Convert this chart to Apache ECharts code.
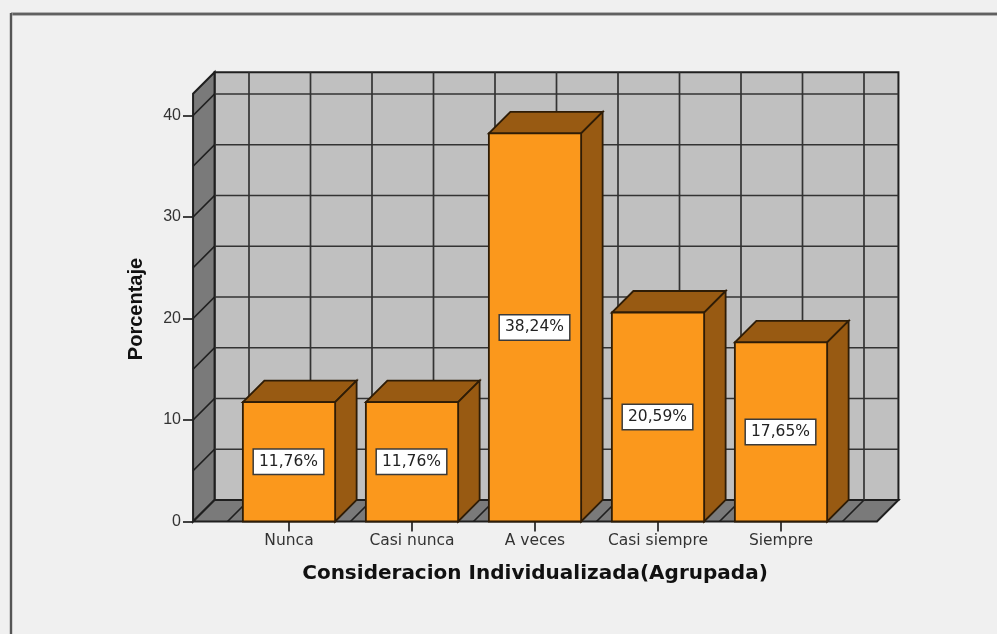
<!DOCTYPE html>
<html>
<head>
<meta charset="utf-8">
<style>html,body{margin:0;padding:0;background:#f0f0f0}#c{width:997px;height:634px}</style>
<script src="https://cdn.jsdelivr.net/npm/echarts@6/dist/echarts.min.js"></script>
</head>
<body>
<div id="c"></div>
<script>
const categories = ['Nunca', 'Casi nunca', 'A veces', 'Casi siempre', 'Siempre'];
const values = [11.76, 11.76, 38.24, 20.59, 17.65];
const valueLabels = ['11,76%', '11,76%', '38,24%', '20,59%', '17,65%'];
const wallLines = [0, 5, 10, 15, 20, 25, 30, 35, 40];
const wallTopValue = 42.15;
const wallPadBands = 0.78;

const DEPTH = 21.5;
const BAR_RATIO = 0.75;
const LINE = '#1f1f1f';
const BAR_LINE = '#2e1c06';
const GRIDLINE = '#333333';
const chart = echarts.init(document.getElementById('c'));

function line(x1, y1, x2, y2, w, c) {
  return { type: 'line', shape: { x1, y1, x2, y2 }, style: { stroke: c || LINE, lineWidth: w || 1.5 } };
}
function poly(points, fill, w, c) {
  return { type: 'polygon', shape: { points }, style: { fill, stroke: c || LINE, lineWidth: w || 1.5, lineJoin: 'miter' } };
}

function renderWalls(params, api) {
  const band = api.size([1, 0])[0];
  const y0 = api.coord([0, 0])[1];
  const yTop = api.coord([0, wallTopValue])[1];
  const xL = api.coord([0, 0])[0] - wallPadBands * band;
  const xR = api.coord([categories.length - 1, 0])[0] + wallPadBands * band;
  const d = DEPTH;
  const kids = [];
  kids.push(poly([[xL + d, y0 - d], [xR + d, y0 - d], [xR + d, yTop - d], [xL + d, yTop - d]], '#c0c0c0', 2));
  kids.push(poly([[xL, y0], [xL + d, y0 - d], [xL + d, yTop - d], [xL, yTop]], '#7a7a7a', 2));
  kids.push(poly([[xL, y0], [xR, y0], [xR + d, y0 - d], [xL + d, y0 - d]], '#7a7a7a', 2));
  wallLines.forEach(function (v) {
    const y = api.coord([0, v])[1];
    if (v > 0) {
      kids.push(line(xL + d, y - d, xR + d, y - d, 1.7, GRIDLINE));
      kids.push(line(xL, y, xL + d, y - d, 1.7, LINE));
    }
  });
  for (let i = 0; i <= categories.length * 2; i++) {
    const x = api.coord([0, 0])[0] + (i / 2 - 0.5) * band;
    kids.push(line(x + d, y0 - d, x + d, yTop - d, 1.7, GRIDLINE));
    kids.push(line(x, y0, x + d, y0 - d, 1.7, LINE));
  }
  return { type: 'group', children: kids };
}

function renderBar(params, api) {
  const i = api.value(0), v = api.value(1);
  const p = api.coord([i, v]), base = api.coord([i, 0]);
  const w = api.size([1, 0])[0] * BAR_RATIO;
  const l = p[0] - w / 2, r = p[0] + w / 2, t = p[1], b = base[1], d = DEPTH;
  return {
    type: 'group',
    children: [
      poly([[l, t], [r, t], [r + d, t - d], [l + d, t - d]], '#985a12', 1.8, BAR_LINE),
      poly([[r, t], [r + d, t - d], [r + d, b - d], [r, b]], '#985a12', 1.8, BAR_LINE),
      poly([[l, t], [r, t], [r, b], [l, b]], '#fb981c', 1.8, BAR_LINE),
      {
        type: 'text',
        style: {
          x: p[0] - 0.5, y: (t + b) / 2, text: valueLabels[i], align: 'center', verticalAlign: 'middle',
          font: '15.5px "DejaVu Sans"', fill: '#222', backgroundColor: '#fff',
          borderColor: '#3a3a3a', borderWidth: 1.5, padding: [4, 5, 4, 5]
        }
      }
    ]
  };
}

chart.setOption({
  animation: false,
  backgroundColor: '#f0f0f0',
  grid: { left: 227.5, right: 154.5, top: 115.5, bottom: 112.5 },
  graphic: [
    { type: 'line', shape: { x1: 11, y1: 14, x2: 997, y2: 14 }, style: { stroke: '#b0b0b0', lineWidth: 4 } },
    { type: 'line', shape: { x1: 11, y1: 14, x2: 997, y2: 14 }, style: { stroke: '#606060', lineWidth: 2 } },
    { type: 'line', shape: { x1: 11, y1: 13, x2: 11, y2: 634 }, style: { stroke: '#b0b0b0', lineWidth: 3 } },
    { type: 'line', shape: { x1: 11, y1: 13, x2: 11, y2: 634 }, style: { stroke: '#555', lineWidth: 2 } }
  ],
  xAxis: {
    type: 'category',
    data: categories,
    name: 'Consideracion Individualizada(Agrupada)',
    nameLocation: 'middle',
    nameGap: 42,
    nameTextStyle: { fontFamily: '"DejaVu Sans"', fontWeight: 'bold', fontSize: 20, color: '#111' },
    axisLine: { show: false },
    axisTick: { show: true, alignWithLabel: true, length: 10, lineStyle: { color: '#222', width: 1.7 } },
    axisLabel: { fontFamily: '"DejaVu Sans"', fontSize: 15.5, color: '#333', margin: 11, interval: 0 },
    splitLine: { show: false }
  },
  yAxis: {
    type: 'value',
    min: 0,
    max: 40,
    interval: 10,
    offset: 34.5,
    name: 'Porcentaje',
    nameLocation: 'middle',
    nameGap: 47,
    nameRotate: 90,
    nameTextStyle: { fontFamily: '"Liberation Sans"', fontWeight: 'bold', fontSize: 20, color: '#111', padding: [0, 0, 0, 19] },
    axisLine: { show: false },
    axisTick: { show: true, length: 10, lineStyle: { color: '#222', width: 1.7 } },
    axisLabel: { fontFamily: '"Liberation Sans"', fontSize: 16, color: '#333', margin: 12, padding: [4, 0, 0, 0] },
    splitLine: { show: false }
  },
  series: [
    { type: 'custom', name: 'Paredes', coordinateSystem: 'cartesian2d', silent: true, clip: false, z: 1, renderItem: renderWalls, data: [[0, 0]], encode: { x: 0, y: 1 } },
    { type: 'custom', name: 'Porcentaje', coordinateSystem: 'cartesian2d', clip: false, z: 2, renderItem: renderBar, data: values.map(function (v, i) { return [i, v]; }), encode: { x: 0, y: 1 } }
  ]
});
</script>
</body>
</html>
